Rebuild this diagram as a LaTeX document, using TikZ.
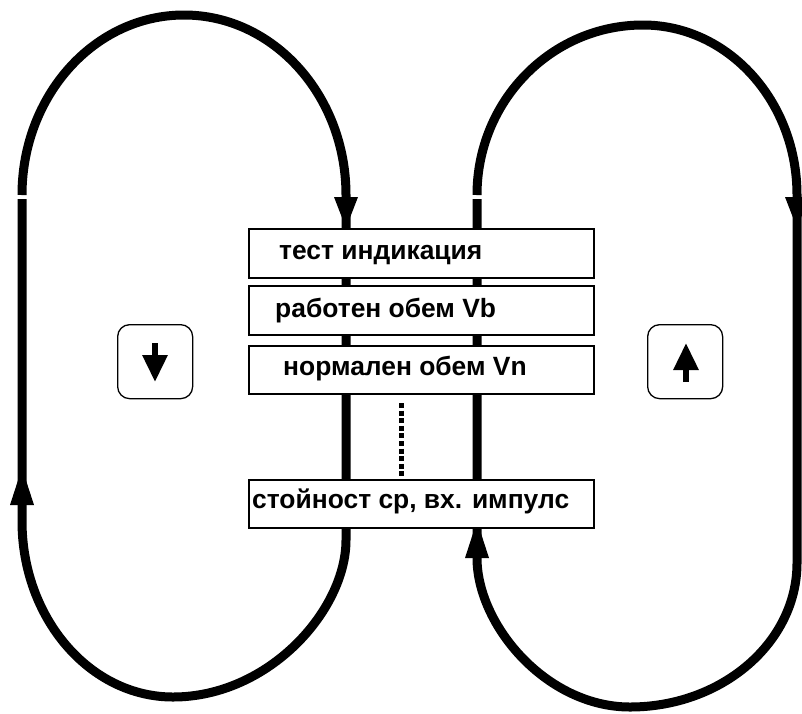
\documentclass[tikz,border=0pt]{standalone}
\usepackage{fontspec}
\setmainfont{Liberation Sans}
\usetikzlibrary{arrows.meta}
\begin{document}
\begin{tikzpicture}[x=1pt,y=-1pt,
  track/.style={line width=9pt, line join=round},
  item/.style={draw, line width=1.5pt, fill=white, minimum width=345pt, minimum height=49pt, inner sep=0pt, anchor=north west},
  itemtext/.style={anchor=base west, font=\bfseries\fontsize{26.4}{30}\selectfont, inner sep=0pt},
  keybox/.style={draw, line width=1.3pt, rounded corners=12pt, minimum width=75pt, minimum height=74pt, inner sep=0pt, anchor=north west},
  keyarrow/.style={line width=6pt, -{Triangle[length=27pt,width=24pt]}},
  headdown/.pic={\fill (-12,0) -- (12,0) -- (0,31) -- cycle;},
  headup/.pic={\fill (-12,0) -- (12,0) -- (0,-37) -- cycle;}]
\useasboundingbox (0,0) rectangle (802,713);
\clip (0,0) rectangle (802,713);

% left loop (runs down through the list)
\draw[track] (22,199) -- (22,521)
  .. controls (22,618) and (89.6,697) .. (173,697)
  .. controls (269,697) and (346,610) .. (346,540)
  -- (346,195)
  .. controls (346,95.6) and (273.5,15) .. (184,15)
  .. controls (94.5,15) and (22,95.6) .. (22,195);

% right loop (runs up through the list)
\draw[track] (477,195)
  .. controls (477,101) and (551.3,25) .. (643,25)
  .. controls (728,25) and (797,101) .. (797,195)
  -- (797,563)
  .. controls (797,642.5) and (722,707) .. (630,707)
  .. controls (546,707) and (477,624.7) .. (477,558)
  -- (477,199);

% arrowheads on the loops
\pic at (22,505) {headup};
\pic at (346,197) {headdown};
\pic at (477,558) {headup};
\pic at (797,197) {headdown};

% list of items
\node[item] (b1) at (248,228) {};
\node[item] (b2) at (248,285) {};
\node[item, minimum height=48pt] (b3) at (248,345) {};
\node[item, minimum height=48pt] (b4) at (248,479) {};
\node[itemtext] (t1) at (279,259) {тест индикация};
\node[itemtext] (t2) at (275,317) {работен обем Vb};
\node[itemtext] (t3) at (283,375) {нормален обем Vn};
\node[itemtext] (t4) at (252,508) {стойност ср, вх. импулс};

% dotted continuation
\coordinate (d1) at (401,403);
\coordinate (d2) at (401,479);
\draw[line width=5pt, dash pattern=on 5pt off 2.6pt] (d1) -- (d2);

% key boxes
\node[keybox] (kL) at (117,324) {};
\node[keybox] (kR) at (647,324) {};
\coordinate (kLa) at (155,343);
\coordinate (kLb) at (155,382);
\coordinate (kRa) at (686,382);
\coordinate (kRb) at (686,343);
\draw[keyarrow] (kLa) -- (kLb);
\draw[keyarrow] (kRa) -- (kRb);
\end{tikzpicture}
\end{document}
